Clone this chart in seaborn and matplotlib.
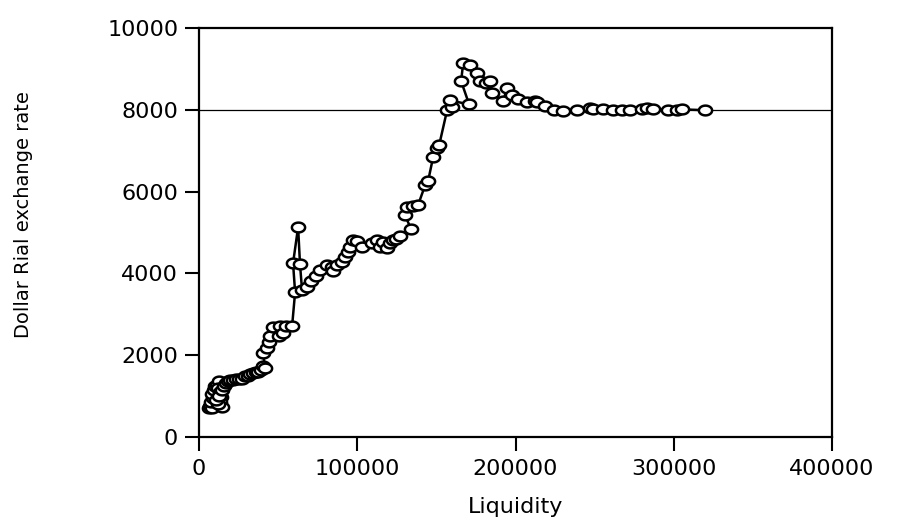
import numpy as np
import pandas as pd
import seaborn as sns
import matplotlib.pyplot as plt
from matplotlib.path import Path
from matplotlib.ticker import FuncFormatter

# values, in drawing order
liquidity = [6300, 6950, 8200, 7600, 8850, 8200, 9500, 10100, 11400, 12600,
             12000, 13300, 13900, 13300, 14500, 12000, 10700, 12600, 14500, 15800,
             17100, 18300, 19600, 21500, 23400, 25300, 27200, 29100, 31000, 32200,
             34100, 36000, 37300, 39200, 40500, 41700, 40500, 43000, 44200, 44900,
             46800, 51200, 50600, 53100, 55000, 58800, 60700, 59400, 62600, 63800,
             65100, 68300, 70800, 74000, 76500, 80900, 84100, 84700, 87200, 90400,
             92300, 94200, 95400, 97300, 99900, 103000, 109300, 112500, 114400, 116300,
             118800, 120700, 122600, 124500, 127000, 134000, 130200, 131500, 135300, 138400,
             142800, 144700, 147900, 150400, 151700, 156800, 159900, 158700, 170700, 165600,
             166900, 171300, 175700, 177600, 181400, 183900, 185200, 192100, 194700, 197800,
             201600, 207300, 212400, 213600, 218700, 224400, 230100, 238900, 247100, 249000,
             255400, 261700, 267400, 272400, 280000, 283200, 287000, 296400, 302100, 305300,
             319800]
dollar_rial = [700, 770, 700, 850, 950, 1040, 1140, 1240, 1260, 1360,
               1190, 1090, 970, 850, 730, 800, 900, 1000, 1140, 1240,
               1310, 1360, 1390, 1390, 1430, 1430, 1430, 1480, 1480, 1530,
               1560, 1600, 1600, 1650, 1730, 1680, 2050, 2170, 2320, 2460,
               2680, 2710, 2460, 2540, 2710, 2710, 3540, 4250, 5130, 4220,
               3590, 3660, 3810, 3930, 4080, 4200, 4150, 4050, 4200, 4270,
               4390, 4520, 4640, 4810, 4790, 4640, 4740, 4810, 4640, 4760,
               4610, 4740, 4810, 4830, 4910, 5080, 5420, 5620, 5640, 5670,
               6150, 6250, 6840, 7060, 7130, 8000, 8060, 8230, 8130, 8700,
               9140, 9090, 8900, 8700, 8650, 8700, 8400, 8210, 8530, 8360,
               8260, 8190, 8210, 8190, 8090, 7990, 7970, 7990, 8040, 8010,
               8010, 7990, 7990, 7990, 8010, 8040, 8010, 7990, 7990, 8010,
               7990]
ref_level = 8000
x_ticks = [0, 100000, 200000, 300000, 400000]
y_ticks = [0, 2000, 4000, 6000, 8000, 10000]

df = pd.DataFrame({'Liquidity': liquidity, 'Dollar Rial exchange rate': dollar_rial})

sns.set_style("ticks")
plt.rcParams['font.family'] = ['DejaVu Sans']

# flattened open circle, the reference is stretched sideways
t = np.linspace(0, 2 * np.pi, 60)
ellipse = Path(np.column_stack([1.35 * np.cos(t), np.sin(t)]), closed=True)

fig = plt.figure(figsize=(8.97, 5.25), dpi=100)
ax = fig.add_axes([0.2219, 0.1676, 0.7057, 0.7791])

ax.axhline(ref_level, color='black', lw=0.9, zorder=1)
sns.lineplot(data=df, x='Liquidity', y='Dollar Rial exchange rate', sort=False,
             estimator=None, errorbar=None, color='black', lw=1.8,
             marker=ellipse, markersize=9.5, markerfacecolor='white',
             markeredgecolor='black', markeredgewidth=1.8, ax=ax, zorder=3)

ax.set_xlim(0, 400000)
ax.set_ylim(0, 10000)
ax.set_xticks(x_ticks)
ax.set_yticks(y_ticks)
fmt = FuncFormatter(lambda v, p: '%d' % v)
ax.xaxis.set_major_formatter(fmt)
ax.yaxis.set_major_formatter(fmt)

for s in ax.spines.values():
    s.set_linewidth(1.6)
    s.set_color('black')
ax.tick_params(axis='both', direction='out', length=10, width=1.5,
               labelsize=16, colors='black')
ax.tick_params(axis='y', pad=5)
ax.tick_params(axis='x', pad=6)

ax.set_xlabel('Liquidity', fontsize=16, color='black')
ax.set_ylabel('Dollar Rial exchange rate', fontsize=14, color='black')
ax.xaxis.set_label_coords(0.5, -0.147)
ax.yaxis.set_label_coords(-0.262, 0.543)

fig.savefig('out.png', dpi=100)
